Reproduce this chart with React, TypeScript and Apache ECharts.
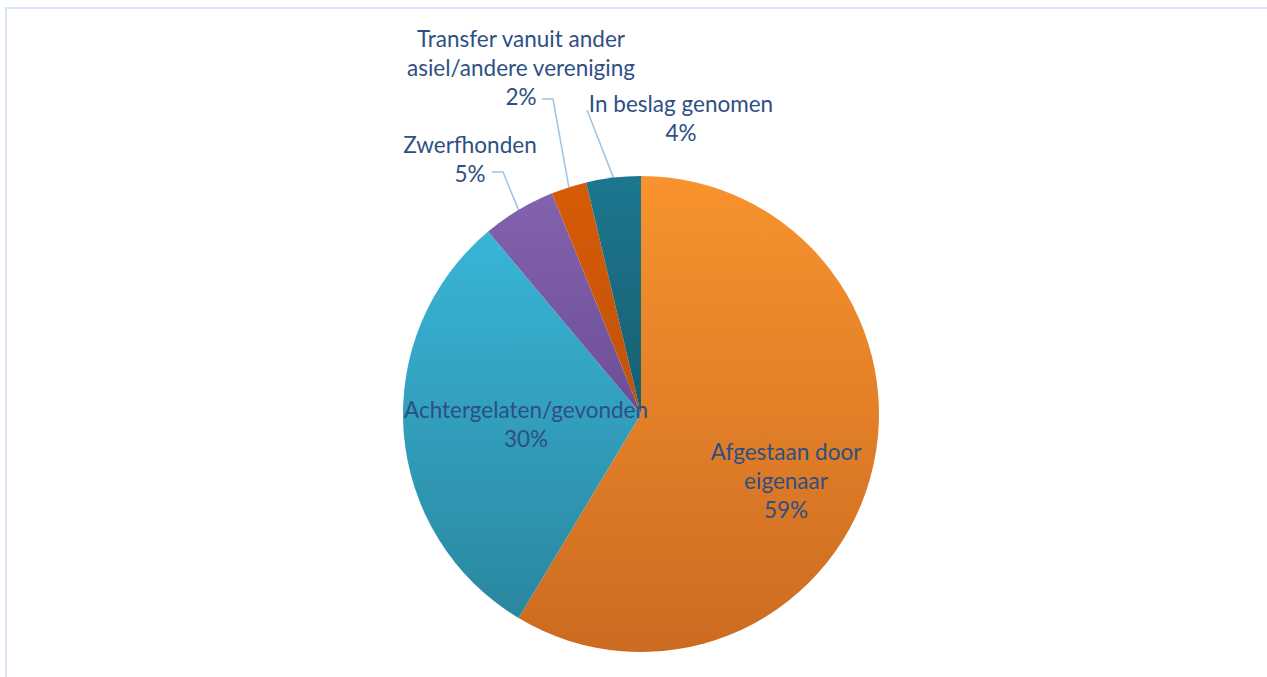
import React, { useEffect, useRef } from "react";
import * as echarts from "echarts";

const categories = [
  "Afgestaan door\neigenaar",
  "Achtergelaten/gevonden",
  "Zwerfhonden",
  "Transfer vanuit ander\nasiel/andere vereniging",
  "In beslag genomen",
];
const values = [586, 303, 50, 24, 37];
const topColors = ["#F8932E", "#39B5D8", "#8362AE", "#D65B06", "#1C778E"];
const bottomColors = ["#CC6B21", "#2A879F", "#6C4E96", "#C0520A", "#175E72"];
const insideLabels = [true, true, false, false, false];
const labelCenters: [number, number][] = [
  [786, 480],
  [526, 424],
  [470, 159],
  [521, 67],
  [681, 118],
];
// leader line attach offsets (relative to label centre), before reaching the slice
const leaderOffsets: ([number, number][] | null)[] = [
  null,
  null,
  [
    [22, 13],
    [33, 13],
  ],
  [
    [21, 32],
    [32, 32],
  ],
  [[-94, -8]],
];

export default function App() {
  const ref = useRef<HTMLDivElement>(null);
  useEffect(() => {
    if (!ref.current) return;
    const chart = echarts.init(ref.current, null, { renderer: "svg" });
    const total = values.reduce((a, b) => a + b, 0);
    const data = values.map((v, i) => ({
      name: categories[i],
      value: v,
      itemStyle: {
        color: new echarts.graphic.LinearGradient(0, 0, 0, 1, [
          { offset: 0, color: topColors[i] },
          { offset: 1, color: bottomColors[i] },
        ]),
      },
      label: {
        position: insideLabels[i] ? "inside" : "outside",
      },
      labelLine: { show: !insideLabels[i] },
    }));
    chart.setOption({
      animation: false,
      backgroundColor: "#ffffff",
      graphic: [
        {
          type: "rect",
          shape: { x: 6, y: 8, width: 1400, height: 800 },
          style: { fill: "none", stroke: "#D6E4F5", lineWidth: 2 },
          silent: true,
        },
      ],
      series: [
        {
          type: "pie",
          center: [641, 414],
          radius: [0, 238],
          startAngle: 90,
          clockwise: true,
          data,
          itemStyle: { borderWidth: 0 },
          label: {
            show: true,
            color: "#2E4F84",
            fontFamily: "Lato",
            fontSize: 22.5,
            lineHeight: 29,
            align: "center",
            formatter: (p: any) =>
              `${p.name}\n${Math.round((p.value / total) * 100)}%`,
          },
          labelLine: {
            show: true,
            length: 15,
            length2: 12,
            smooth: false,
            lineStyle: { color: "#9DC3E6", width: 1.5 },
          },
          labelLayout: (p: any) => {
            const c = labelCenters[p.dataIndex];
            const res: any = {
              x: c[0],
              y: c[1],
              align: "center",
              verticalAlign: "middle",
            };
            const offs = leaderOffsets[p.dataIndex];
            if (offs && p.labelLinePoints && p.labelLinePoints.length) {
              const slicePt = p.labelLinePoints[0];
              const pts = offs.map((o) => [c[0] + o[0], c[1] + o[1]]);
              pts.push([slicePt[0], slicePt[1]]);
              res.labelLinePoints = pts;
            }
            return res;
          },
        },
      ],
    });
    return () => chart.dispose();
  }, []);
  return (
    <div
      ref={ref}
      style={{ position: "absolute", left: 0, top: 0, width: 1267, height: 677 }}
    />
  );
}
